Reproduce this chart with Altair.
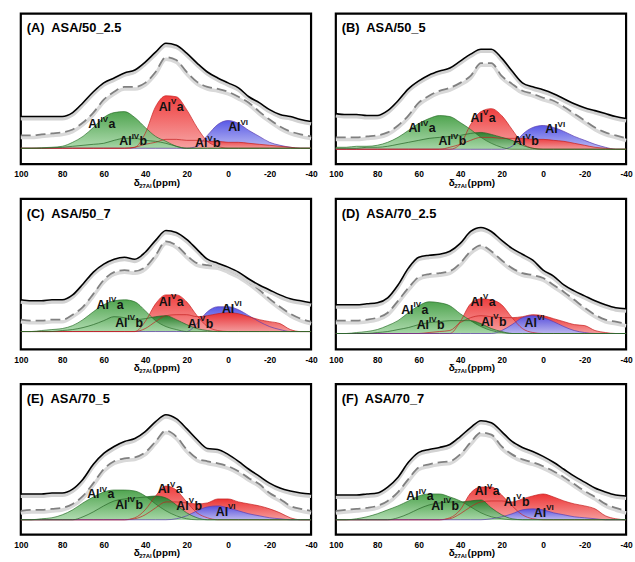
import altair as alt
import pandas as pd

FONT = "Liberation Sans"

PPM = [100, 95, 90, 85, 80, 75, 70, 65, 60, 55, 50, 45, 40, 35, 30, 25, 20, 15, 10, 5, 0,
       -5, -10, -15, -20, -25, -30, -35, -40]
TICKS = [100, 80, 60, 40, 20, 0, -20, -40]

TITLES = ["(A)\u00a0 ASA/50_2.5", "(B)\u00a0 ASA/50_5", "(C)\u00a0 ASA/50_7",
          "(D)\u00a0 ASA/70_2.5", "(E)\u00a0 ASA/70_5", "(F)\u00a0 ASA/70_7"]

# ---- panel A ----
A_SPEC = [32, 32, 32, 32, 32, 36, 46, 57, 66, 71, 76, 79, 87, 97, 106, 104, 96, 86, 77, 71, 66, 61, 52, 46, 39, 34, 32, 29, 27]
A_FIT = [13, 13, 14, 15, 16, 19, 26, 36, 49, 57, 62, 62, 66, 77, 92, 89, 77, 67, 62, 60, 57, 52, 46, 37, 29, 22, 17, 14, 12]
A_IVA = [0, 0, 0.5, 1, 2, 6, 12, 21, 31, 36, 37, 31, 21, 12, 7, 2, 0, 0, 0, 0, 0, 0, 0, 0, 0, 0, 0, 0, 0]
A_IVB = [0, 0, 0, 0.5, 1, 2, 3, 4, 5, 8, 10, 10, 8, 7, 5, 2, 0, 0, 0, 0, 0, 0, 0, 0, 0, 0, 0, 0, 0]
A_VA = [0, 0, 0, 0, 0, 0, 0, 0, 0, 0, 0, 1, 15, 42, 53, 52, 39, 21, 7, 2, 0, 0, 0, 0, 0, 0, 0, 0, 0]
A_VB = [0, 0, 0, 0, 0, 0, 0, 0, 0, 0, 0, 1, 4, 6, 9, 9, 8, 8, 7, 7, 6, 6, 5, 4, 3, 2, 1, 0, 0]
A_VI = [0, 0, 0, 0, 0, 0, 0, 0, 0, 0, 0, 0, 0, 0, 0, 0, 0, 2, 13, 24, 28, 25, 18, 12, 6, 3, 1, 0, 0]

# ---- panel B ----
B_SPEC = [36, 35, 35, 34, 34, 39, 49, 61, 69, 75, 79, 82, 89, 96, 101, 101, 92, 79, 67, 63, 60, 56, 51, 46, 42, 39, 36, 33, 31]
B_FIT = [12, 12, 12, 13, 14, 17, 24, 34, 47, 54, 59, 62, 67, 74, 87, 87, 74, 66, 59, 56, 52, 49, 43, 36, 29, 22, 17, 14, 11]
B_IVA = [2, 2, 3, 3, 4, 7, 12, 19, 26, 31, 34, 33, 27, 20, 12, 6, 2, 0, 0, 0, 0, 0, 0, 0, 0, 0, 0, 0, 0]
B_IVB = [1, 1, 1, 2, 2, 3, 5, 7, 9, 11, 12, 13, 14, 16, 17, 15, 12, 9, 4, 1, 0, 0, 0, 0, 0, 0, 0, 0, 0]
B_VA = [0, 0, 0, 0, 0, 0, 0, 0, 0, 0, 0, 0, 5, 25, 38, 41, 34, 20, 6, 1, 0, 0, 0, 0, 0, 0, 0, 0, 0]
B_VB = [0, 0, 0, 0, 0, 0, 0, 0, 0, 0, 0, 2, 5, 9, 12, 12, 11, 11, 11, 10, 10, 9, 8, 6, 4, 2, 1, 0, 0]
B_VI = [0, 0, 0, 0, 0, 0, 0, 0, 0, 0, 0, 0, 0, 0, 0, 0, 0, 3, 15, 22, 24, 22, 18, 13, 9, 5, 2, 0, 0]

# ---- panel C ----
C_SPEC = [32, 31, 31, 32, 32, 37, 48, 60, 68, 73, 75, 73, 80, 92, 102, 100, 93, 83, 73, 69, 65, 60, 53, 47, 42, 37, 33, 31, 29]
C_FIT = [12, 11, 11, 12, 12, 17, 25, 38, 52, 60, 62, 61, 65, 77, 91, 87, 77, 69, 67, 66, 62, 57, 50, 42, 33, 25, 18, 13, 10]
C_IVA = [0, 0, 1, 2, 3, 6, 12, 20, 27, 31, 32, 30, 21, 11, 5, 2, 0, 0, 0, 0, 0, 0, 0, 0, 0, 0, 0, 0, 0]
C_IVB = [0, 0, 0, 0, 1, 2, 4, 7, 11, 15, 14, 12, 13, 15, 16, 12, 7, 3, 1, 0, 0, 0, 0, 0, 0, 0, 0, 0, 0]
C_VA = [0, 0, 0, 0, 0, 0, 0, 0, 0, 0, 0, 0, 10, 28, 37, 37, 30, 16, 5, 1, 0, 0, 0, 0, 0, 0, 0, 0, 0]
C_VB = [0, 0, 0, 0, 0, 0, 0, 0, 0, 0, 0, 0, 3, 10, 16, 17, 17, 15, 16, 18, 19, 18, 15, 12, 10, 8, 2, 0, 0]
C_VI = [0, 0, 0, 0, 0, 0, 0, 0, 0, 0, 0, 0, 0, 0, 0, 0, 0, 8, 20, 25, 25, 22, 16, 10, 5, 2, 0, 0, 0]

# ---- panel D ----
D_SPEC = [29, 29, 29, 30, 31, 36, 49, 66, 77, 79, 80, 83, 91, 103, 107, 103, 94, 86, 80, 74, 64, 58, 49, 43, 38, 33, 29, 26, 25]
D_FIT = [13, 13, 13, 14, 16, 21, 33, 46, 57, 60, 61, 63, 71, 83, 89, 83, 74, 66, 61, 59, 56, 49, 42, 34, 26, 19, 14, 12, 10]
D_IVA = [0, 0, 1, 2, 4, 8, 13, 21, 28, 32, 31, 28, 20, 13, 7, 3, 1, 0, 0, 0, 0, 0, 0, 0, 0, 0, 0, 0, 0]
D_IVB = [0, 0, 0, 0, 1, 2, 4, 6, 9, 11, 12, 13, 13, 13, 10, 5, 2, 0, 0, 0, 0, 0, 0, 0, 0, 0, 0, 0, 0]
D_VA = [0, 0, 0, 0, 0, 0, 0, 0, 0, 0, 0, 0, 12, 30, 35, 34, 29, 16, 5, 1, 0, 0, 0, 0, 0, 0, 0, 0, 0]
D_VB = [0, 0, 0, 0, 0, 0, 0, 0, 0, 1, 2, 3, 11, 16, 18, 17, 16, 16, 17, 19, 18, 15, 12, 9, 8, 3, 1, 0, 0]
D_VI = [0, 0, 0, 0, 0, 0, 0, 0, 0, 0, 0, 0, 0, 0, 0, 0, 3, 9, 16, 18, 16, 12, 7, 3, 1, 0, 0, 0, 0]

# ---- panel E ----
E_SPEC = [26, 26, 26, 27, 27, 31, 41, 56, 67, 74, 79, 82, 89, 99, 106, 102, 92, 81, 72, 71, 66, 59, 51, 44, 37, 32, 29, 27, 26]
E_FIT = [9, 10, 10, 11, 12, 16, 24, 37, 51, 59, 62, 63, 68, 79, 90, 84, 71, 62, 59, 57, 54, 49, 42, 36, 27, 21, 14, 11, 9]
E_IVA = [0, 0, 1, 2, 5, 10, 17, 23, 28, 30, 30, 29, 24, 16, 9, 4, 1, 0, 0, 0, 0, 0, 0, 0, 0, 0, 0, 0, 0]
E_IVB = [0, 0, 0, 0, 0, 0, 3, 8, 14, 19, 21, 22, 23, 24, 22, 15, 7, 2, 0, 0, 0, 0, 0, 0, 0, 0, 0, 0, 0]
E_VA = [0, 0, 0, 0, 0, 0, 0, 0, 0, 0, 0, 2, 10, 24, 34, 30, 18, 7, 2, 0, 0, 0, 0, 0, 0, 0, 0, 0, 0]
E_VB = [0, 0, 0, 0, 0, 0, 0, 0, 0, 0, 0, 1, 5, 12, 18, 18, 17, 16, 17, 21, 21, 18, 16, 14, 11, 7, 2, 0, 0]
E_VI = [0, 0, 0, 0, 0, 0, 0, 0, 0, 0, 0, 0, 0, 0, 0, 1, 4, 9, 13, 14, 12, 9, 6, 4, 2, 1, 0, 0, 0]

# ---- panel F ----
F_SPEC = [25, 25, 25, 26, 27, 33, 43, 58, 68, 71, 73, 76, 84, 93, 100, 98, 89, 79, 73, 69, 64, 58, 51, 44, 38, 32, 28, 25, 24]
F_FIT = [9, 10, 11, 12, 14, 19, 28, 41, 53, 56, 58, 59, 66, 78, 88, 86, 74, 66, 61, 58, 54, 49, 43, 36, 29, 23, 16, 12, 9]
F_IVA = [0, 0, 1, 3, 6, 10, 14, 19, 24, 26, 26, 23, 19, 13, 7, 3, 1, 0, 0, 0, 0, 0, 0, 0, 0, 0, 0, 0, 0]
F_IVB = [0, 0, 0, 0, 0, 0, 2, 6, 11, 15, 17, 18, 18, 19, 20, 12, 5, 1, 0, 0, 0, 0, 0, 0, 0, 0, 0, 0, 0]
F_VA = [0, 0, 0, 0, 0, 0, 0, 0, 0, 0, 0, 2, 10, 27, 33, 33, 25, 14, 5, 1, 0, 0, 0, 0, 0, 0, 0, 0, 0]
F_VB = [0, 0, 0, 0, 0, 0, 0, 0, 0, 0, 0, 1, 6, 13, 18, 19, 19, 18, 21, 24, 26, 23, 19, 16, 14, 11, 4, 1, 0]
F_VI = [0, 0, 0, 0, 0, 0, 0, 0, 0, 0, 0, 0, 0, 0, 0, 1, 3, 6, 10, 11, 10, 7, 5, 3, 2, 1, 0, 0, 0]

SPEC = [A_SPEC, B_SPEC, C_SPEC, D_SPEC, E_SPEC, F_SPEC]
FIT = [A_FIT, B_FIT, C_FIT, D_FIT, E_FIT, F_FIT]
IVA = [A_IVA, B_IVA, C_IVA, D_IVA, E_IVA, F_IVA]
IVB = [A_IVB, B_IVB, C_IVB, D_IVB, E_IVB, F_IVB]
VA = [A_VA, B_VA, C_VA, D_VA, E_VA, F_VA]
VB = [A_VB, B_VB, C_VB, D_VB, E_VB, F_VB]
VI = [A_VI, B_VI, C_VI, D_VI, E_VI, F_VI]

# label anchors (ppm, height) for AlIVa, AlIVb, AlVa, AlVb, AlVI
LAB_PPM = [
    [67.5, 52.5, 33.5, 16.0, 0.0],
    [65.0, 50.5, 35.0, 14.5, -1.0],
    [63.5, 54.5, 33.5, 19.5, 3.0],
    [68.5, 61.0, 35.0, 30.0, 9.0],
    [68.0, 54.5, 34.0, 25.0, 6.0],
    [66.0, 54.0, 33.0, 19.0, 4.5],
]
LAB_H = [
    [24, 7, 42, 5, 21],
    [21, 8, 32, 8, 20],
    [27, 9, 30, 8, 23],
    [24, 9, 32, 12, 11],
    [26, 15, 31, 14, 8],
    [24, 14, 29, 18, 7],
]
LAB_SUP = ["IV", "IV", "V", "V", "VI"]
LAB_SUF = ["a", "b", "a", "b", ""]

BASE_GAP = [16, 15, 18, 16, 15, 15]
BLUE_TOP = [False, False, False, True, True, True]

W, H = 293, 152


def grad(top, bottom):
    return alt.Gradient(
        gradient="linear",
        stops=[alt.GradientStop(color=top, offset=0), alt.GradientStop(color=bottom, offset=1)],
        x1=1, x2=1, y1=0, y2=1,
    )


FILL = {
    "ivb": (grad("#2c7d2c", "#9fd09f"), 1.0),
    "iva": (grad("#3c9a3c", "#a8d8a8"), 0.9),
    "vb": (grad("#ec2e2e", "#f59a9a"), 0.97),
    "va": (grad("#ee3434", "#f6a2a2"), 0.95),
    "vi": (grad("#5050e4", "#b8b8f2"), 0.95),
}
EDGE = {"ivb": "#246224", "iva": "#2a702a", "vb": "#c41e1e", "va": "#c82222", "vi": "#5a3cb0"}

LFS = 12.5   # label font size
SFS = 8      # superscript font size


def panel(i):
    df = pd.DataFrame({"ppm": PPM, "spec": SPEC[i], "fit": FIT[i], "iva": IVA[i], "ivb": IVB[i],
                       "va": VA[i], "vb": VB[i], "vi": VI[i]})
    lo = -BASE_GAP[i]
    hi = lo + H
    X = alt.X("ppm:Q", scale=alt.Scale(domain=[100, -40], nice=False, zero=False),
              axis=alt.Axis(values=TICKS, title=None, labelFontWeight="bold", labelFontSize=8.5,
                            labelFont=FONT, labelColor="black", ticks=False, domain=False, grid=False,
                            labelPadding=6, labelFlush=False, labelOverlap=False, labelBound=False,
                            labelExpr="datum.value < 0 ? '-' + abs(datum.value) : '' + datum.value"))

    def Y(f):
        return alt.Y(f"{f}:Q", scale=alt.Scale(domain=[lo, hi], nice=False, zero=False), axis=None)

    base = alt.Chart(df)
    layers = []
    if BLUE_TOP[i]:
        order = ["vb", "va", "vi", "ivb", "iva"]
    else:
        order = ["vi", "vb", "va", "ivb", "iva"]
    for c in order:
        g, op = FILL[c]
        layers.append(base.mark_area(color=g, opacity=op, interpolate="monotone")
                      .encode(x=X, y=Y(c), y2=alt.datum(0)))
    for c in order:
        layers.append(base.mark_line(color=EDGE[c], strokeWidth=0.7, interpolate="monotone")
                      .encode(x=X, y=Y(c)))
    # fit (dashed) with shadow
    layers.append(base.transform_calculate(sh="datum.fit - 2.2")
                  .mark_line(color="#d9d9d9", strokeWidth=3.5, interpolate="monotone")
                  .encode(x=X, y=Y("sh")))
    layers.append(base.mark_line(color="#808080", strokeWidth=1.8, strokeDash=[10, 5], interpolate="monotone")
                  .encode(x=X, y=Y("fit")))
    # experimental spectrum with shadow
    layers.append(base.transform_calculate(sh="datum.spec - 2.2")
                  .mark_line(color="#d2d2d2", strokeWidth=3.5, interpolate="monotone")
                  .encode(x=X, y=Y("sh")))
    layers.append(base.mark_line(color="black", strokeWidth=1.6, interpolate="monotone")
                  .encode(x=X, y=Y("spec")))

    # component labels
    lab = pd.DataFrame({"ppm": LAB_PPM[i], "h": LAB_H[i], "sup": LAB_SUP, "suf": LAB_SUF,
                        "g": ["w", "w", "n", "n", "w"]})
    lb = alt.Chart(lab)
    layers.append(lb.mark_text(text="Al", align="left", baseline="middle", fontSize=LFS,
                               fontWeight="bold", font=FONT, color="#111111")
                  .encode(x=X, y=Y("h")))
    layers.append(lb.mark_text(align="left", baseline="middle", fontSize=SFS, dx=LFS, dy=-4.5,
                               fontWeight="bold", font=FONT, color="#111111")
                  .encode(x=X, y=Y("h"), text="sup:N"))
    layers.append(lb.transform_filter("datum.g == 'w'")
                  .mark_text(align="left", baseline="middle", fontSize=LFS, dx=LFS + 8,
                             fontWeight="bold", font=FONT, color="#111111")
                  .encode(x=X, y=Y("h"), text="suf:N"))
    layers.append(lb.transform_filter("datum.g == 'n'")
                  .mark_text(align="left", baseline="middle", fontSize=LFS, dx=LFS + 5.8,
                             fontWeight="bold", font=FONT, color="#111111")
                  .encode(x=X, y=Y("h"), text="suf:N"))

    # panel title
    layers.append(alt.Chart(pd.DataFrame({"t": [TITLES[i]]}))
                  .mark_text(align="left", baseline="middle", fontSize=13, fontWeight="bold",
                             font=FONT, color="black")
                  .encode(x=alt.value(6), y=alt.value(15), text="t:N"))

    # axis title  δ27Al (ppm)
    at = alt.Chart(pd.DataFrame({"t": ["\u03b4"], "s": ["27Al"], "p": ["(ppm)"]}))
    layers.append(at.mark_text(align="left", baseline="middle", fontSize=10, fontWeight="bold",
                               font=FONT, color="black")
                  .encode(x=alt.value(114), y=alt.value(H + 19), text="t:N"))
    layers.append(at.mark_text(align="left", baseline="middle", fontSize=6, fontWeight="bold",
                               font=FONT, color="black")
                  .encode(x=alt.value(119.5), y=alt.value(H + 22), text="s:N"))
    layers.append(at.mark_text(align="left", baseline="middle", fontSize=10, fontWeight="bold",
                               font=FONT, color="black")
                  .encode(x=alt.value(133), y=alt.value(H + 19), text="p:N"))

    return alt.layer(*layers).properties(width=W, height=H)


for arrs in (SPEC, FIT, IVA, IVB, VA, VB, VI):
    for a in arrs:
        assert len(a) == len(PPM), len(a)

chart = (
    alt.concat(*[panel(i) for i in range(6)], columns=2,
               spacing={"row": 35, "column": 25}, bounds="flush")
    .properties(padding={"left": 12, "top": 9, "right": 0, "bottom": 0}, background="white")
    .configure_view(stroke="black", strokeWidth=2.2)
)

chart.save("out.html", embed_options={"renderer": "svg", "actions": False})
